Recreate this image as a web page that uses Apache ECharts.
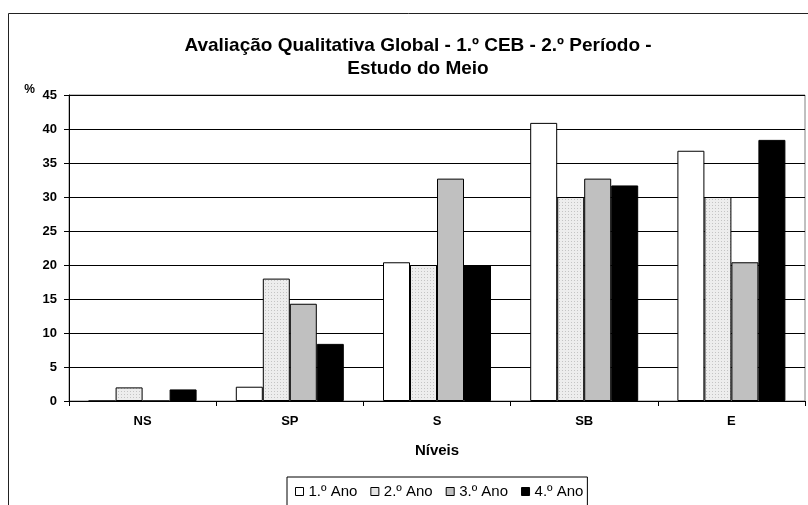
<!DOCTYPE html>
<html>
<head>
<meta charset="utf-8">
<script src="https://cdn.jsdelivr.net/npm/echarts@6/dist/echarts.min.js"></script>
<style>html,body{margin:0;padding:0;background:#fff}#c{width:808px;height:505px}</style>
</head>
<body>
<div id="c"></div>
<script>
var categories = ['NS', 'SP', 'S', 'SB', 'E'];
var ano1 = [0, 2.1, 20.4, 40.9, 36.8];
var ano2 = [2.0, 18.0, 20.0, 30.0, 30.0];
var ano3 = [0, 14.3, 32.7, 32.7, 20.4];
var ano4 = [1.7, 8.4, 20.0, 31.7, 38.4];
var seriesNames = ['1.º Ano', '2.º Ano', '3.º Ano', '4.º Ano'];
var yTicks = [0, 5, 10, 15, 20, 25, 30, 35, 40, 45];

var pc = document.createElement('canvas');
pc.width = 3; pc.height = 3;
var ctx = pc.getContext('2d');
ctx.fillStyle = '#ededed'; ctx.fillRect(0, 0, 3, 3);
ctx.fillStyle = '#c4c4c4'; ctx.fillRect(1, 1, 1, 1);
var pattern = { image: pc, repeat: 'repeat' };

var fills = ['#ffffff', pattern, '#c0c0c0', '#000000'];
var dataSets = [ano1, ano2, ano3, ano4];
var font = 'Liberation Sans, Arial, sans-serif';

var chart = echarts.init(document.getElementById('c'), null, { renderer: 'canvas' });
chart.setOption({
  backgroundColor: '#fff',
  animation: false,
  title: {
    text: 'Avaliação Qualitativa Global - 1.º CEB - 2.º Período -\nEstudo do Meio',
    left: 413, top: 29, textAlign: 'center',
    textStyle: { fontFamily: font, fontSize: 19, fontWeight: 'bold', color: '#000', lineHeight: 23 }
  },
  graphic: [{
    type: 'rect', silent: true,
    shape: { x: 8.5, y: 13.5, width: 830, height: 540 },
    style: { fill: 'none', stroke: '#222', lineWidth: 1 }
  }],
  legend: {
    data: seriesNames.map(function (n, i) {
      return { name: n, itemStyle: { color: i === 1 ? '#e4e4e4' : fills[i], borderColor: '#000', borderWidth: 1 } };
    }),
    left: 287, top: 477,
    itemWidth: 8, itemHeight: 8, itemGap: 13,
    icon: 'rect',
    borderColor: '#000', borderWidth: 1,
    padding: [7, 4, 10, 8],
    textStyle: { fontFamily: font, fontSize: 15, color: '#000' }
  },
  grid: { left: 69, top: 95, right: 3, bottom: 104, show: true, borderColor: '#808080', borderWidth: 1, backgroundColor: '#fff' },
  xAxis: {
    type: 'category', data: categories,
    name: 'Níveis', nameLocation: 'middle', nameGap: 42,
    nameTextStyle: { fontFamily: font, fontSize: 15, fontWeight: 'bold', color: '#000' },
    axisLine: { lineStyle: { color: '#000', width: 1 } },
    axisTick: { show: true, length: 5, lineStyle: { color: '#000' } },
    axisLabel: { fontFamily: font, fontSize: 13, fontWeight: 'bold', color: '#000', margin: 14 }
  },
  yAxis: {
    type: 'value', min: yTicks[0], max: yTicks[yTicks.length - 1], interval: 5,
    name: '%', nameLocation: 'end', nameGap: -1,
    nameTextStyle: { fontFamily: font, fontSize: 12, fontWeight: 'bold', color: '#000', align: 'right', padding: [0, 34, 0, 0] },
    axisLine: { show: true, lineStyle: { color: '#000', width: 1 } },
    axisTick: { show: true, length: 5, lineStyle: { color: '#000' } },
    axisLabel: { fontFamily: font, fontSize: 13, fontWeight: 'bold', color: '#000', margin: 12 },
    splitLine: { show: true, lineStyle: { color: '#000', width: 1 } }
  },
  series: dataSets.map(function (d, i) {
    return {
      name: seriesNames[i], type: 'bar', data: d,
      barWidth: 27, barGap: '0%',
      itemStyle: { color: fills[i], borderColor: '#000', borderWidth: 1 },
      emphasis: { disabled: true }
    };
  })
});
</script>
</body>
</html>
